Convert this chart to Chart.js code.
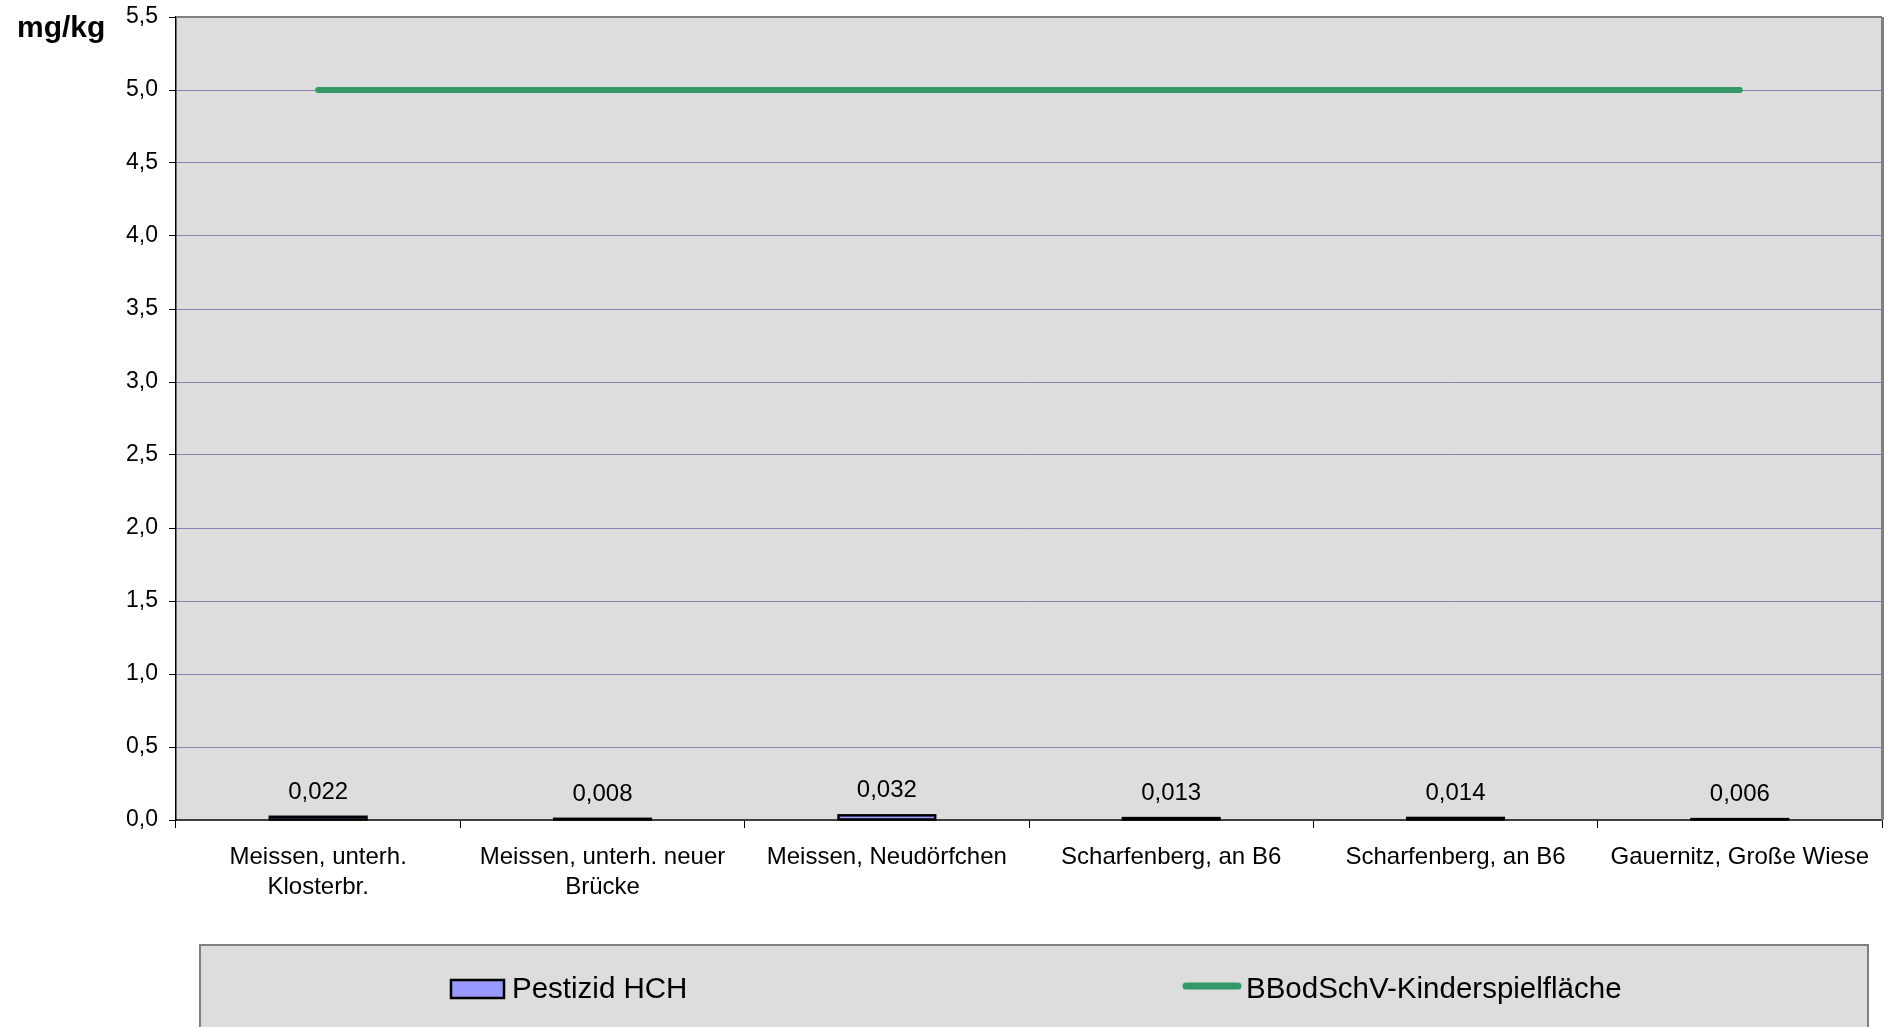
<!DOCTYPE html>
<html><head><meta charset="utf-8">
<script src="https://cdn.jsdelivr.net/npm/chart.js@4.4.1/dist/chart.umd.min.js"></script>
<style>html,body{margin:0;padding:0;background:#fff;overflow:hidden}#wrap{width:1890px;height:1027px;position:relative}</style>
</head><body><div id="wrap"><canvas id="c" width="1890" height="1027"></canvas></div>
<script>
const categories = [["Meissen, unterh.","Klosterbr."],["Meissen, unterh. neuer","Brücke"],"Meissen, Neudörfchen","Scharfenberg, an B6","Scharfenberg, an B6","Gauernitz, Große Wiese"];
const hchValues = [0.022,0.008,0.032,0.013,0.014,0.006];
const hchLabels = ["0,022","0,008","0,032","0,013","0,014","0,006"];
const limitValues = [5,5,5,5,5,5];
const seriesNames = ["Pestizid HCH","BBodSchV-Kinderspielfläche"];
const unitLabel = "mg/kg";
const yMin = 0, yMax = 5.5, yStep = 0.5;

const FONT = '"Liberation Sans", Arial, sans-serif';

const deco = {
  id: 'deco',
  beforeDraw(chart){
    const {ctx, chartArea:a} = chart;
    ctx.save();
    ctx.fillStyle = '#dddddd';
    ctx.fillRect(a.left, a.top, a.right-a.left, a.bottom-a.top);
    ctx.restore();
  },
  afterDatasetsDraw(chart){
    const {ctx} = chart;
    const meta = chart.getDatasetMeta(0);
    ctx.save();
    ctx.strokeStyle = '#000';
    ctx.lineWidth = 2.5;
    ctx.font = '24px ' + FONT;
    ctx.fillStyle = '#000';
    ctx.textAlign = 'center';
    ctx.textBaseline = 'alphabetic';
    meta.data.forEach((el, i) => {
      const p = el.getProps(['x','y','base','width'], true);
      ctx.strokeRect(p.x - p.width/2, p.y, p.width, p.base - p.y);
      ctx.fillText(hchLabels[i], p.x, p.y - 18);
    });
    ctx.restore();
  },
  afterDraw(chart){
    const {ctx, chartArea:a} = chart;
    ctx.save();
    ctx.strokeStyle = '#808080';
    ctx.lineWidth = 2;
    ctx.beginPath();
    ctx.moveTo(a.left, a.top); ctx.lineTo(a.right, a.top);
    ctx.stroke();
    ctx.lineWidth = 3;
    ctx.beginPath();
    ctx.moveTo(a.right + 0.5, a.top); ctx.lineTo(a.right + 0.5, a.bottom);
    ctx.stroke();
    ctx.fillStyle = '#000';
    ctx.font = 'bold 30px ' + FONT;
    ctx.textAlign = 'left';
    ctx.textBaseline = 'middle';
    ctx.fillText(unitLabel, 17, 29);
    ctx.fillStyle = '#dddddd';
    ctx.fillRect(200, 945, 1668, 100);
    ctx.strokeStyle = '#808080';
    ctx.lineWidth = 2;
    ctx.strokeRect(200, 945, 1668, 100);
    const ds = chart.data.datasets;
    ctx.fillStyle = ds[0].backgroundColor;
    ctx.fillRect(451, 980, 53, 18);
    ctx.strokeStyle = '#000';
    ctx.lineWidth = 2.5;
    ctx.strokeRect(451, 980, 53, 18);
    ctx.strokeStyle = ds[1].borderColor;
    ctx.lineWidth = 7;
    ctx.lineCap = 'round';
    ctx.beginPath(); ctx.moveTo(1186, 986); ctx.lineTo(1238, 986); ctx.stroke();
    ctx.fillStyle = '#000';
    ctx.font = '29.5px ' + FONT;
    ctx.textBaseline = 'middle';
    ctx.fillText(seriesNames[0], 512, 990);
    ctx.fillText(seriesNames[1], 1246, 990);
    ctx.restore();
  }
};

new Chart(document.getElementById('c'), {
  data: {
    labels: categories,
    datasets: [
      { type: 'bar', label: seriesNames[0], data: hchValues, backgroundColor: '#9999ff', borderWidth: 0,
        barPercentage: 0.34, categoryPercentage: 1, order: 1 },
      { type: 'line', label: seriesNames[1], data: limitValues, borderColor: '#339966', borderWidth: 6,
        pointRadius: 0, borderCapStyle: 'round', fill: false, order: 0 }
    ]
  },
  options: {
    responsive: false,
    animation: false,
    devicePixelRatio: 1,
    layout: { padding: { left: 0, right: 8, top: 17, bottom: 82 } },
    plugins: { legend: { display: false }, tooltip: { enabled: false } },
    scales: {
      x: {
        offset: true,
        grid: { display: true, drawOnChartArea: false, drawTicks: true, tickLength: 8, tickColor: '#000', offset: true },
        border: { display: true, color: '#404040', width: 2 },
        ticks: { color: '#000', font: { family: FONT, size: 24, lineHeight: 1.25 }, padding: 14, maxRotation: 0, autoSkip: false },
        afterFit(scale){ scale.height = 125; }
      },
      y: {
        min: yMin, max: yMax,
        grid: { color: '#8484b4', lineWidth: 1, drawTicks: true, tickLength: 7, tickColor: '#000' },
        border: { display: true, color: '#000', width: 1.5 },
        ticks: { stepSize: yStep, color: '#000', font: { family: FONT, size: 23, lineHeight: 0.5 }, padding: 11,
          callback: v => v.toFixed(1).replace('.', ',') },
        afterFit(scale){ scale.width = 176; }
      }
    }
  },
  plugins: [deco]
});
</script>
</body></html>
